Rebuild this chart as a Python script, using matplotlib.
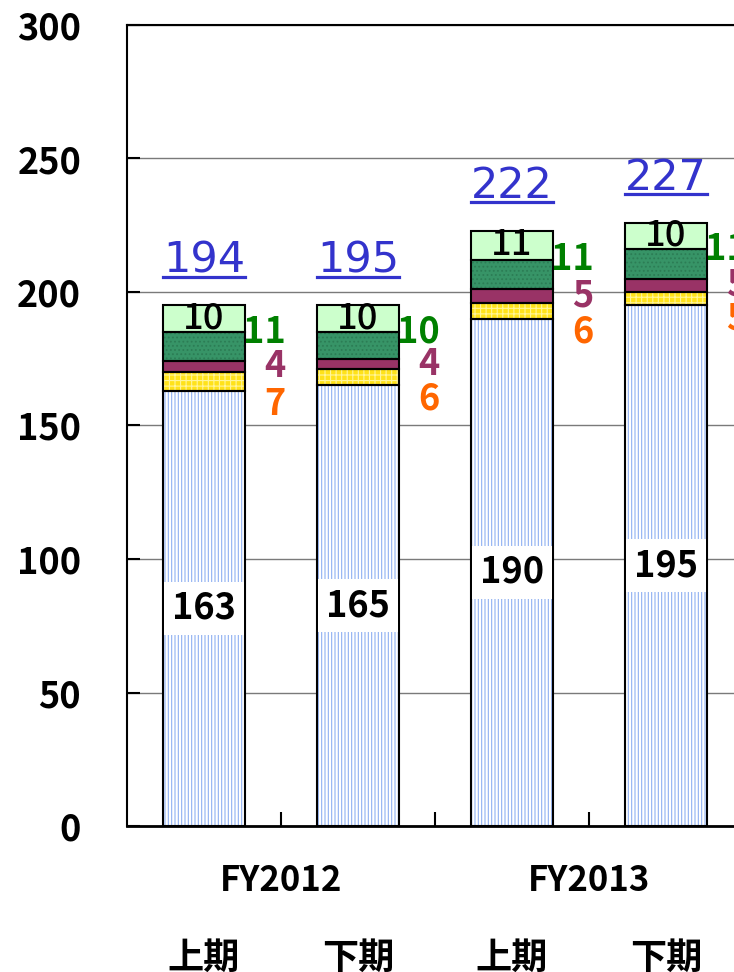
import matplotlib
matplotlib.use("Agg")
import numpy as np
import matplotlib.pyplot as plt
from matplotlib.lines import Line2D
from matplotlib.transforms import blended_transform_factory

plt.rcParams['font.family'] = ['Noto Sans CJK JP', 'DejaVu Sans']
plt.rcParams['hatch.linewidth'] = 0.8

# data
periods = ["上期", "下期", "上期", "下期"]
years = ["FY2012", "FY2013"]
base = [163, 165, 190, 195]
yellow = [7, 6, 6, 5]
maroon = [4, 4, 5, 5]
green = [11, 10, 11, 11]
light = [10, 10, 11, 10]
totals = [194, 195, 222, 227]

x = np.arange(len(base))
w = 0.53

fig = plt.figure(figsize=(7.34, 9.72), dpi=100)
ax = fig.add_axes([127 / 734, 146 / 972, 616 / 734, 801 / 972])

# segments: (values, face, hatch colour, hatch)
segs = [
    (base, "white", "#8fb0f2", "|||||"),
    (yellow, "#ffe21a", "#fff59a", "+++"),
    (maroon, "#993366", None, None),
    (green, "#379467", "#2c7d55", "...."),
    (light, "#ccffcc", None, None),
]
bottom = np.zeros(len(base))
for vals, fc, hc, h in segs:
    if h:
        ax.bar(x, vals, w, bottom=bottom, color=fc, edgecolor=hc, hatch=h, lw=0, zorder=2)
    else:
        ax.bar(x, vals, w, bottom=bottom, color=fc, lw=0, zorder=2)
    ax.bar(x, vals, w, bottom=bottom, fill=False, edgecolor="black", lw=1.5, zorder=3)
    bottom = bottom + np.array(vals)

b = np.array(base)
yl = b + np.array(yellow)
mr = yl + np.array(maroon)
gr = mr + np.array(green)
top = gr + np.array(light)

for i in range(len(base)):
    # value inside base segment
    ax.text(x[i], b[i] / 2, str(base[i]), ha="center", va="center", fontsize=26,
            fontweight="bold", zorder=5,
            bbox=dict(boxstyle="square,pad=0.22", fc="white", ec="none"))
    # top segment value
    ax.text(x[i], (gr[i] + top[i]) / 2, str(light[i]), ha="center", va="center",
            fontsize=26, fontweight="medium", zorder=5)
    # side labels
    xr = x[i] + 0.53
    ax.text(xr, gr[i], str(green[i]), ha="right", va="center", fontsize=26,
            fontweight="bold", color="#008000", zorder=5)
    ax.text(xr, (yl[i] + mr[i]) / 2, str(maroon[i]), ha="right", va="center",
            fontsize=26, fontweight="bold", color="#993366", zorder=5)
    ax.text(xr, b[i] - 5, str(yellow[i]), ha="right", va="center", fontsize=26,
            fontweight="bold", color="#ff6600", zorder=5)

tot_texts = []
for i in range(len(base)):
    t = ax.annotate(str(totals[i]), (x[i], top[i]), xytext=(0, 17),
                    textcoords="offset points", ha="center", va="bottom",
                    fontsize=31, color="#3333cc", family="DejaVu Sans", zorder=5)
    tot_texts.append(t)

ax.set_xlim(-0.5, len(base) - 0.5)
ax.set_ylim(0, 300)
ax.set_yticks(np.arange(0, 301, 50))
ax.yaxis.grid(True, color="#7a7a7a", lw=1)
ax.set_axisbelow(True)
ax.tick_params(axis="y", direction="in", length=9, width=1.5, pad=33,
               labelsize=26)
for lab in ax.get_yticklabels():
    lab.set_fontweight("bold")

ax.set_xticks(x)
ax.set_xticklabels(periods, fontsize=26, fontweight="bold")
ax.tick_params(axis="x", length=0, pad=82)
ax.set_xticks(x[:-1] + 0.5, minor=True)
ax.tick_params(axis="x", which="minor", direction="in", length=10, width=1.5)

trans = blended_transform_factory(ax.transData, ax.transAxes)
for k, yr in enumerate(years):
    ax.text(2 * k + 0.5, -0.068, yr, transform=trans, ha="center", va="center",
            fontsize=25, fontweight="bold")

for s in ["left", "top"]:
    ax.spines[s].set_linewidth(1.5)
ax.spines["bottom"].set_linewidth(2)
ax.spines["right"].set_visible(False)

# underline the totals
fig.canvas.draw()
r = fig.canvas.get_renderer()
inv = fig.transFigure.inverted()
for t in tot_texts:
    bb = t.get_window_extent(r)
    (x0, y0), (x1, y1) = inv.transform([[bb.x0, bb.y0 + 5], [bb.x1, bb.y0 + 5]])
    fig.add_artist(Line2D([x0, x1], [y0, y1], color="#3333cc", lw=2.3))

fig.savefig("out.png", dpi=100)
